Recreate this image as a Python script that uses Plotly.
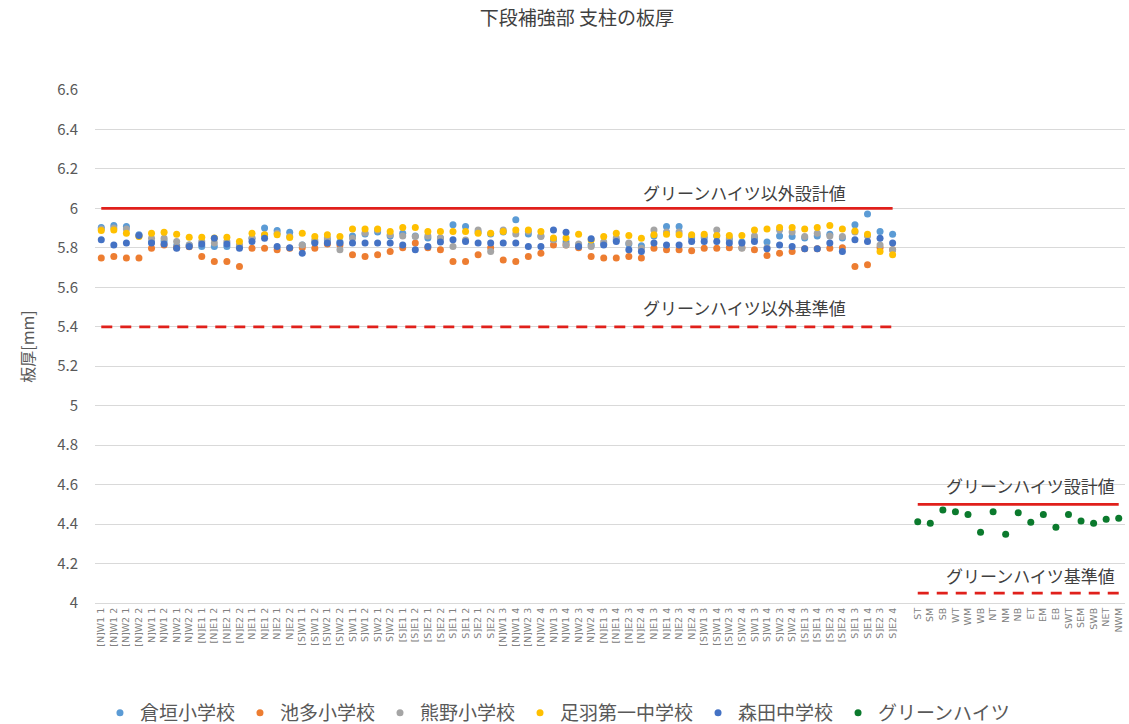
import plotly.graph_objects as go

categories_main = [
    "[N]W1 1", "[N]W1 2", "[N]W2 1", "[N]W2 2", "N]W1 1", "N]W1 2", "N]W2 1", "N]W2 2",
    "[N]E1 1", "[N]E1 2", "[N]E2 1", "[N]E2 2", "N]E1 1", "N]E1 2", "N]E2 1", "N]E2 2",
    "[S]W1 1", "[S]W1 2", "[S]W2 1", "[S]W2 2", "S]W1 1", "S]W1 2", "S]W2 1", "S]W2 2",
    "[S]E1 1", "[S]E1 2", "[S]E2 1", "[S]E2 2", "S]E1 1", "S]E1 2", "S]E2 1", "S]E2 2",
    "[N]W1 3", "[N]W1 4", "[N]W2 3", "[N]W2 4", "N]W1 3", "N]W1 4", "N]W2 3", "N]W2 4",
    "[N]E1 3", "[N]E1 4", "[N]E2 3", "[N]E2 4", "N]E1 3", "N]E1 4", "N]E2 3", "N]E2 4",
    "[S]W1 3", "[S]W1 4", "[S]W2 3", "[S]W2 4", "S]W1 3", "S]W1 4", "S]W2 3", "S]W2 4",
    "[S]E1 3", "[S]E1 4", "[S]E2 3", "[S]E2 4", "S]E1 3", "S]E1 4", "S]E2 3", "S]E2 4",
]
gap_category = [" "]
categories_green = ["ST", "SM", "SB", "WT", "WM", "WB", "NT", "NM", "NB",
                    "ET", "EM", "EB", "SWT", "SEM", "SWB", "NET", "NWM"]

kuragaki = [5.903, 5.913, 5.908, 5.866, 5.830, 5.835, 5.810, 5.815, 5.807, 5.807, 5.807, 5.807, 5.849, 5.900, 5.888, 5.879,
            5.815, 5.830, 5.840, 5.830, 5.860, 5.870, 5.880, 5.860, 5.874, 5.860, 5.850, 5.850, 5.917, 5.908, 5.880, 5.870,
            5.880, 5.942, 5.870, 5.860, 5.840, 5.830, 5.815, 5.815, 5.820, 5.840, 5.820, 5.810, 5.860, 5.908, 5.908, 5.850,
            5.850, 5.860, 5.841, 5.830, 5.850, 5.830, 5.860, 5.857, 5.850, 5.860, 5.869, 5.850, 5.917, 5.971, 5.883, 5.869]
ikeda = [5.748, 5.756, 5.748, 5.748, 5.798, 5.815, 5.800, 5.805, 5.756, 5.731, 5.731, 5.705, 5.798, 5.798, 5.790, 5.798,
         5.800, 5.798, 5.820, 5.815, 5.765, 5.756, 5.765, 5.781, 5.800, 5.824, 5.800, 5.790, 5.731, 5.731, 5.765, 5.800,
         5.739, 5.731, 5.756, 5.773, 5.815, 5.815, 5.800, 5.756, 5.748, 5.748, 5.756, 5.748, 5.798, 5.790, 5.790, 5.785,
         5.798, 5.798, 5.800, 5.800, 5.790, 5.761, 5.773, 5.781, 5.795, 5.795, 5.798, 5.800, 5.705, 5.714, 5.800, 5.790]
kumano = [5.896, 5.900, 5.896, 5.860, 5.849, 5.849, 5.832, 5.815, 5.832, 5.824, 5.832, 5.815, 5.849, 5.866, 5.874, 5.857,
          5.815, 5.840, 5.850, 5.790, 5.849, 5.875, 5.891, 5.866, 5.860, 5.857, 5.860, 5.850, 5.807, 5.840, 5.891, 5.781,
          5.891, 5.870, 5.883, 5.857, 5.841, 5.815, 5.820, 5.807, 5.830, 5.850, 5.824, 5.798, 5.891, 5.880, 5.880, 5.860,
          5.860, 5.891, 5.850, 5.798, 5.860, 5.800, 5.891, 5.880, 5.857, 5.874, 5.860, 5.857, 5.880, 5.860, 5.815, 5.790]
asuwa = [5.888, 5.891, 5.874, 5.858, 5.874, 5.879, 5.869, 5.854, 5.854, 5.850, 5.854, 5.832, 5.874, 5.866, 5.866, 5.852,
         5.874, 5.857, 5.866, 5.857, 5.896, 5.896, 5.896, 5.883, 5.903, 5.903, 5.883, 5.883, 5.883, 5.883, 5.874, 5.874,
         5.883, 5.891, 5.891, 5.883, 5.850, 5.850, 5.869, 5.840, 5.857, 5.874, 5.862, 5.849, 5.866, 5.869, 5.866, 5.866,
         5.869, 5.862, 5.862, 5.862, 5.891, 5.896, 5.903, 5.903, 5.896, 5.903, 5.913, 5.896, 5.886, 5.869, 5.781, 5.765]
morita = [5.841, 5.815, 5.824, 5.862, 5.824, 5.819, 5.798, 5.807, 5.820, 5.849, 5.819, 5.798, 5.832, 5.849, 5.807, 5.800,
          5.773, 5.824, 5.824, 5.824, 5.824, 5.824, 5.824, 5.824, 5.815, 5.790, 5.807, 5.830, 5.841, 5.832, 5.824, 5.824,
          5.824, 5.824, 5.807, 5.807, 5.891, 5.879, 5.807, 5.846, 5.815, 5.832, 5.790, 5.781, 5.824, 5.815, 5.815, 5.832,
          5.832, 5.832, 5.824, 5.824, 5.832, 5.795, 5.815, 5.807, 5.795, 5.795, 5.824, 5.781, 5.841, 5.832, 5.849, 5.824]
green_heights = [4.412, 4.404, 4.471, 4.463, 4.449, 4.358, 4.463, 4.348, 4.458,
                 4.409, 4.449, 4.384, 4.449, 4.416, 4.404, 4.424, 4.429]

design_other = 6.0
standard_other = 5.4
design_green = 4.5
standard_green = 4.05

y_ticks = [4, 4.2, 4.4, 4.6, 4.8, 5, 5.2, 5.4, 5.6, 5.8, 6, 6.2, 6.4, 6.6]
y_tick_text = ["4", "4.2", "4.4", "4.6", "4.8", "5", "5.2", "5.4", "5.6", "5.8", "6", "6.2", "6.4", "6.6"]

all_categories = categories_main + gap_category + categories_green

FONT = "Noto Sans CJK JP"
fig = go.Figure()

series = [
    ("倉垣小学校", kuragaki, "#5B9BD5"),
    ("池多小学校", ikeda, "#ED7D31"),
    ("熊野小学校", kumano, "#A5A5A5"),
    ("足羽第一中学校", asuwa, "#FFC000"),
    ("森田中学校", morita, "#4472C4"),
]
for name, vals, col in series:
    fig.add_trace(go.Scatter(x=categories_main, y=vals, mode="markers", name=name,
                             marker=dict(color=col, size=7)))
fig.add_trace(go.Scatter(x=categories_green, y=green_heights, mode="markers", name="グリーンハイツ",
                         marker=dict(color="#0B7A2D", size=7)))

red = "#E0201B"
fig.add_trace(go.Scatter(x=categories_main, y=[design_other] * len(categories_main), mode="lines",
                         line=dict(color=red, width=2.75), showlegend=False, hoverinfo="skip"))
fig.add_trace(go.Scatter(x=categories_main, y=[standard_other] * len(categories_main), mode="lines",
                         line=dict(color=red, width=2.75, dash="11px,8px"), showlegend=False, hoverinfo="skip"))
fig.add_trace(go.Scatter(x=categories_green, y=[design_green] * len(categories_green), mode="lines",
                         line=dict(color=red, width=2.75), showlegend=False, hoverinfo="skip"))
fig.add_trace(go.Scatter(x=categories_green, y=[standard_green] * len(categories_green), mode="lines",
                         line=dict(color=red, width=2.75, dash="11px,8px"), showlegend=False, hoverinfo="skip"))

ann_font = dict(family=FONT, size=17, color="#404040")
annotations = [
    dict(text="グリーンハイツ以外設計値", x=0.631, xref="paper", y=6.083, yref="y"),
    dict(text="グリーンハイツ以外基準値", x=0.631, xref="paper", y=5.50, yref="y"),
    dict(text="グリーンハイツ設計値", x=0.908, xref="paper", y=4.598, yref="y"),
    dict(text="グリーンハイツ基準値", x=0.908, xref="paper", y=4.137, yref="y"),
]
for a in annotations:
    a.update(showarrow=False, font=ann_font, xanchor="center", yanchor="middle")

fig.update_layout(
    width=1129, height=724,
    margin=dict(l=95, r=4, t=90, b=121, autoexpand=False),
    paper_bgcolor="white", plot_bgcolor="white",
    font=dict(family=FONT, color="#595959"),
    title=dict(text="下段補強部 支柱の板厚", x=577 / 1129, xanchor="center", xref="container",
               y=1 - 18 / 724, yref="container", yanchor="middle", pad=dict(t=0, b=0),
               font=dict(family=FONT, size=19, color="#404040")),
    annotations=annotations,
    showlegend=True,
    legend=dict(orientation="h", x=0.449, xanchor="center", y=-0.214, yanchor="middle",
                font=dict(family=FONT, size=19, color="#595959"), itemsizing="trace",
                itemwidth=30, tracegroupgap=0),
    xaxis=dict(type="category", categoryorder="array", categoryarray=all_categories,
               range=[-0.5, len(all_categories) - 0.5], tickangle=-90, automargin=False,
               tickmode="array", tickvals=all_categories,
               tickfont=dict(family="DejaVu Sans", size=9.5, color="#808080"),
               showgrid=False, showline=True, linecolor="#D9D9D9", ticks="", zeroline=False),
    yaxis=dict(range=[4, 6.6], tickvals=y_ticks, ticktext=y_tick_text, automargin=False,
               tickfont=dict(family=FONT, size=15, color="#595959"), ticklabelstandoff=16,
               showgrid=True, gridcolor="#D9D9D9", gridwidth=1, zeroline=False, showline=False,
               title=dict(text="板厚[mm]", font=dict(family=FONT, size=16, color="#595959"), standoff=18)),
)

fig.write_html("out.html", config={"displayModeBar": False},
               post_script="document.body.style.margin='0';document.body.style.padding='0';")
